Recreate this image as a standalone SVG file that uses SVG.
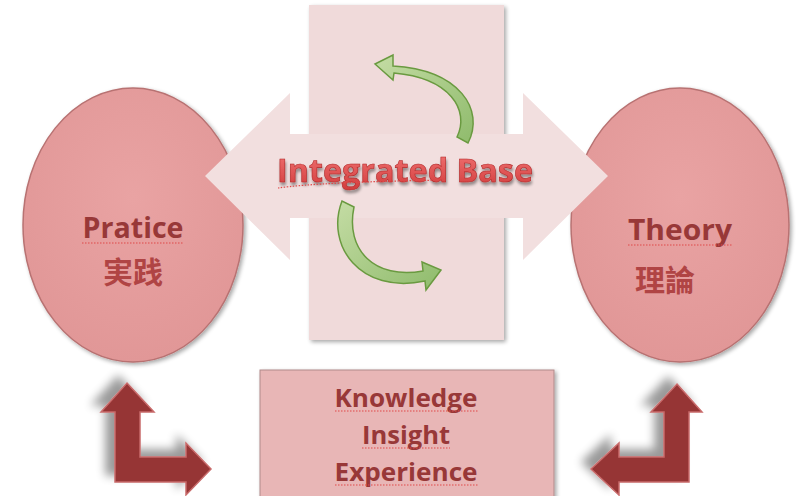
<svg xmlns="http://www.w3.org/2000/svg" width="800" height="496" viewBox="0 0 800 496">
<style>
.lbl{font-family:"Open Sans","Liberation Sans",sans-serif;font-weight:bold;fill:#983838;text-anchor:middle}
.cjk{font-family:"Noto Sans CJK TC","Noto Sans CJK JP",sans-serif;font-weight:bold;fill:#b04444;text-anchor:middle}
.oval{fill:url(#ovalG);stroke:#b87272;stroke-width:1.5;filter:url(#sh)}
.sq{fill:none;stroke:#e04848;stroke-width:1.2;stroke-dasharray:1.5 1.5}
.green{fill:url(#greenG);stroke:#6a9a40;stroke-width:1.5}
.L{fill:#963535;stroke:#c86a6a;stroke-width:1.5;filter:url(#shL)}
</style>
<defs>
<radialGradient id="ovalG" cx="0.5" cy="0.4" r="0.6">
<stop offset="0" stop-color="#e9a3a3"/>
<stop offset="1" stop-color="#e19797"/>
</radialGradient>
<linearGradient id="greenG" x1="0" y1="0" x2="1" y2="1">
<stop offset="0" stop-color="#c4dca4"/>
<stop offset="1" stop-color="#8fbb6c"/>
</linearGradient>
<linearGradient id="redT" x1="0" y1="0" x2="0" y2="1">
<stop offset="0" stop-color="#f47a7a"/>
<stop offset="1" stop-color="#d03838"/>
</linearGradient>
<filter id="sh" x="-10%" y="-10%" width="125%" height="125%">
<feGaussianBlur in="SourceAlpha" stdDeviation="2"/>
<feOffset dx="2" dy="2" result="b"/>
<feComponentTransfer><feFuncA type="linear" slope="0.35"/></feComponentTransfer>
<feMerge><feMergeNode/><feMergeNode in="SourceGraphic"/></feMerge>
</filter>
<filter id="shL" x="-40%" y="-40%" width="180%" height="180%">
<feGaussianBlur in="SourceAlpha" stdDeviation="5"/>
<feOffset dx="-9" dy="-7" result="b"/>
<feComponentTransfer><feFuncA type="linear" slope="0.4"/></feComponentTransfer>
<feMerge><feMergeNode/><feMergeNode in="SourceGraphic"/></feMerge>
</filter>
<filter id="shT" x="-10%" y="-30%" width="120%" height="160%">
<feGaussianBlur in="SourceAlpha" stdDeviation="1.5"/>
<feOffset dx="1" dy="3" result="b"/>
<feComponentTransfer><feFuncA type="linear" slope="0.4"/></feComponentTransfer>
<feMerge><feMergeNode/><feMergeNode in="SourceGraphic"/></feMerge>
</filter>
</defs>
<rect width="800" height="496" fill="#ffffff"/>

<g id="practice">
<ellipse class="oval" cx="133" cy="225" rx="110" ry="137"/>
<text class="lbl" x="133" y="238" font-size="28" textLength="101" lengthAdjust="spacingAndGlyphs">Pratice</text>
<path class="sq" d="M82,243 H183"/>
<text class="cjk" x="133" y="283" font-size="30">実践</text>
</g>

<g id="theory">
<ellipse class="oval" cx="680" cy="225" rx="109" ry="137"/>
<text class="lbl" x="680" y="240" font-size="28" textLength="104" lengthAdjust="spacingAndGlyphs">Theory</text>
<path class="sq" d="M628,245 H732"/>
<text class="cjk" x="665" y="291" font-size="30">理論</text>
</g>

<g id="integrated-base">
<rect x="309" y="5" width="195" height="335" fill="#f0dada" filter="url(#sh)"/>
<polygon points="205,176 290,93 290,134 523,134 523,93 608,176 523,260 523,218 290,218 290,260" fill="#f2dfdf"/>
<path class="green" d="M468,143 C485,110 460,70 393,66 L393,55 L375,64 L393,80 L394,73 C450,78 470,110 457,137 Z"/>
<path class="green" d="M342,201 C325,245 360,295 425,281 L426,290 L441,270 L422,262 L423,271 C375,280 345,250 354,207 Z"/>
<text x="405" y="182" font-family="'Open Sans','Liberation Sans',sans-serif" font-weight="bold" font-size="33" text-anchor="middle" textLength="256" lengthAdjust="spacingAndGlyphs" fill="url(#redT)" stroke="#b02828" stroke-width="0.6" filter="url(#shT)">Integrated Base</text>
<path class="sq" d="M278,188 Q320,182 446,180"/>
</g>

<g id="knowledge">
<rect x="260" y="370" width="294" height="130" fill="#e8b6b6" stroke="#b08a8a" stroke-width="1" filter="url(#sh)"/>
<text class="lbl" x="406" y="407" font-size="25" textLength="143" lengthAdjust="spacingAndGlyphs">Knowledge</text>
<path class="sq" d="M335,411 H478"/>
<text class="lbl" x="406" y="444" font-size="25" textLength="88" lengthAdjust="spacingAndGlyphs">Insight</text>
<path class="sq" d="M362,448 H450"/>
<text class="lbl" x="406" y="481" font-size="25" textLength="143" lengthAdjust="spacingAndGlyphs">Experience</text>
<path class="sq" d="M335,485 H478"/>
</g>

<g id="connectors">
<polygon class="L" points="127,383 154,412 140,412 140,457 186,457 186,443 211,469 186,495 186,482 115,482 115,412 101,412"/>
<polygon class="L" points="677,384 702,412 689,412 689,482 619,482 619,495 591,469 619,443 619,457 664,457 664,412 651,412"/>
</g>
</svg>
